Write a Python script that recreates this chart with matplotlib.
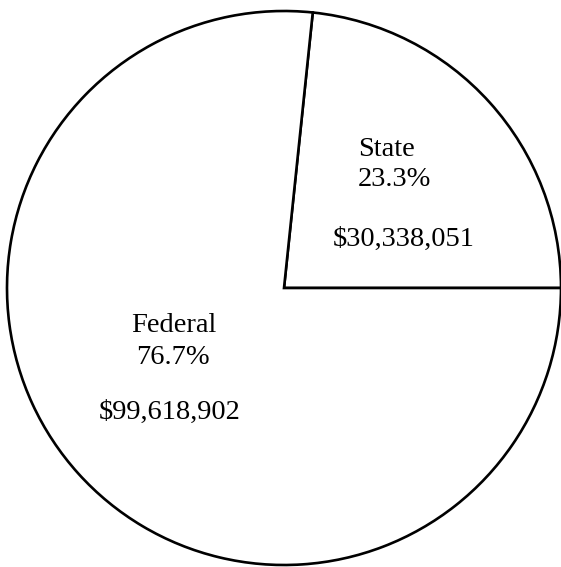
import matplotlib.pyplot as plt

# Datos del gráfico
fuentes = ['State', 'Federal']
montos = [30338051, 99618902]

plt.rcParams['font.family'] = ['Liberation Serif', 'DejaVu Serif']

fig = plt.figure(figsize=(5.61, 5.67), dpi=100)
ax = fig.add_axes([0, 0, 1, 1])

# Centro y radio en pixeles de la figura
cx, cy, r = 284, 279, 277
ax.pie(montos, startangle=0, counterclock=True, center=(cx, cy), radius=r,
       wedgeprops=dict(facecolor='white', edgecolor='black', linewidth=1.9))

total = sum(montos)
pct = [m / total * 100 for m in montos]

fs = 20.5
# Etiquetas de State
ax.text(358, 417, fuentes[0], ha='left', va='center', fontsize=fs)
ax.text(358, 387, f'{pct[0]:.1f}%', ha='left', va='center', fontsize=fs)
ax.text(404, 328, f'${montos[0]:,}', ha='center', va='center', fontsize=fs)

# Etiquetas de Federal
ax.text(174, 242, fuentes[1], ha='center', va='center', fontsize=fs)
ax.text(173, 210, f'{pct[1]:.1f}%', ha='center', va='center', fontsize=fs)
ax.text(170, 155, f'${montos[1]:,}', ha='center', va='center', fontsize=fs)

ax.set_xlim(0, 561)
ax.set_ylim(0, 567)
ax.set_aspect('auto')
ax.axis('off')

fig.savefig('out.png', dpi=100)
